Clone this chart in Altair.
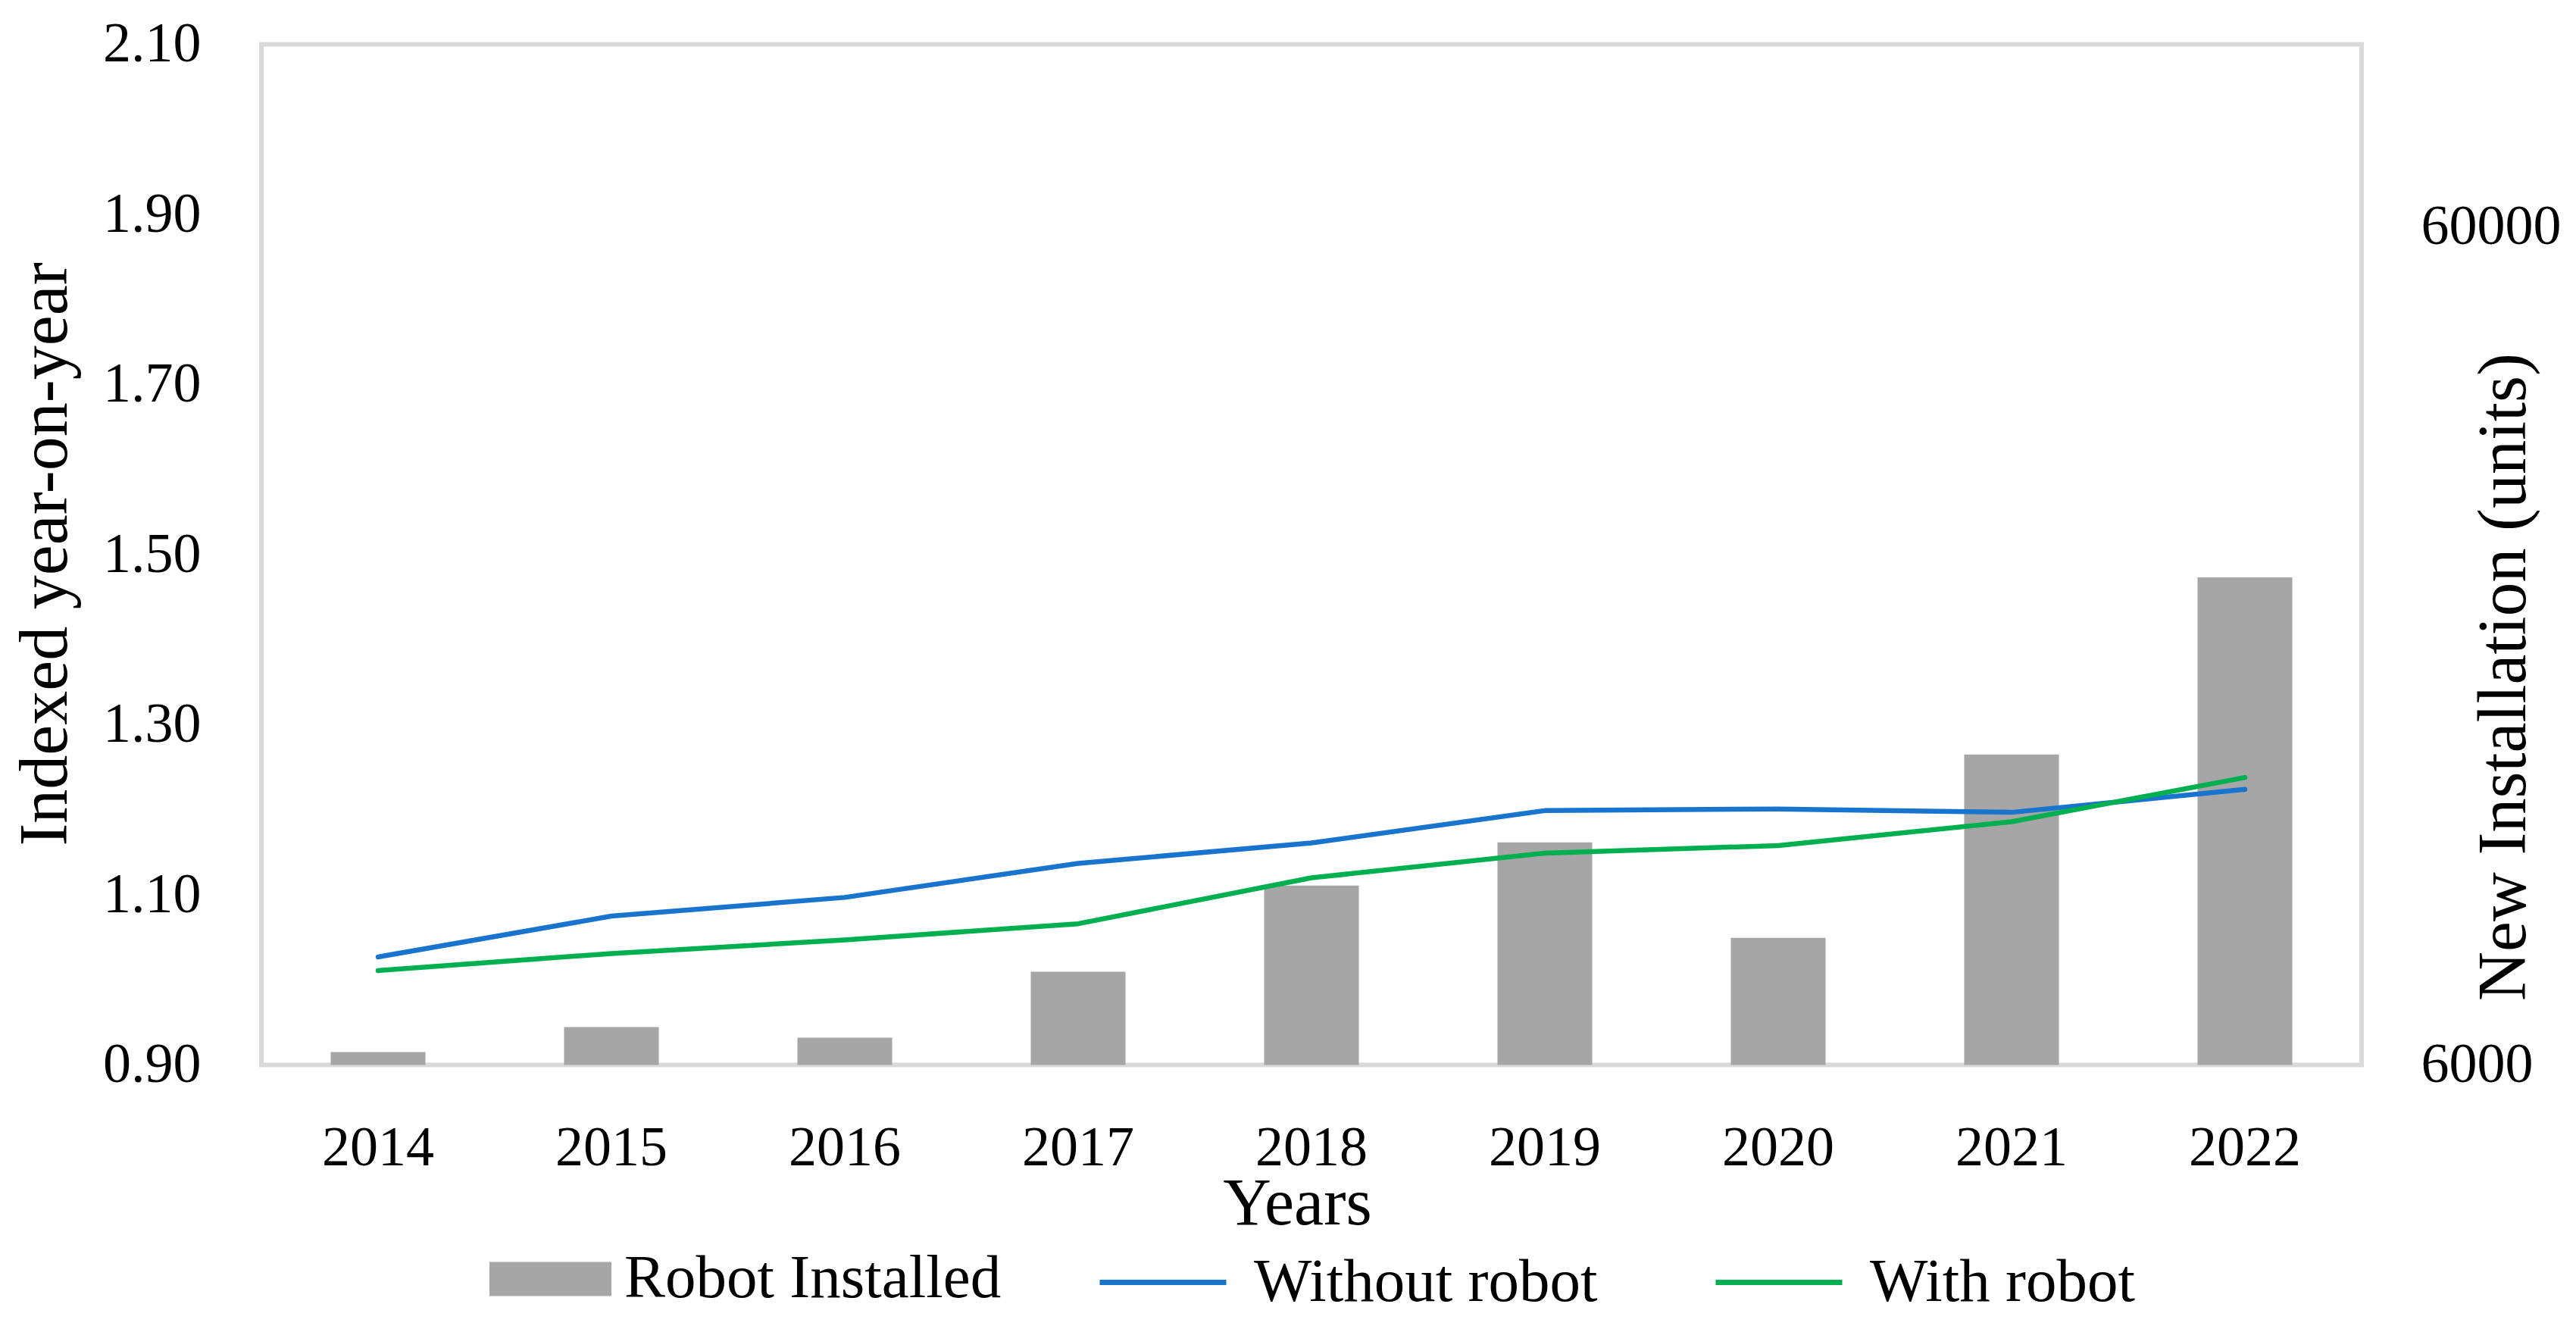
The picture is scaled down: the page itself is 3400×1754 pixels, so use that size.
import altair as alt
import pandas as pd

years = ["2014", "2015", "2016", "2017", "2018", "2019", "2020", "2021", "2022"]
robots_installed = [6216, 6658, 6466, 7749, 9822, 11059, 8506, 14076, 22900]
without_robot = [1.027, 1.075, 1.097, 1.137, 1.161, 1.199, 1.201, 1.197, 1.224]
with_robot = [1.011, 1.031, 1.047, 1.066, 1.120, 1.149, 1.158, 1.186, 1.238]
left_ticks = [0.9, 1.1, 1.3, 1.5, 1.7, 1.9, 2.1]
right_ticks = [6000, 60000]

df = pd.DataFrame({
    "Year": years,
    "Robot Installed": robots_installed,
    "Without robot": without_robot,
    "With robot": with_robot,
})

FONT = "Liberation Serif"
W, H = 2772, 1347

x_enc = alt.X(
    "Year:N", sort=years,
    scale=alt.Scale(paddingInner=0.594, paddingOuter=0.297),
    axis=alt.Axis(
        title="Years", labelAngle=0, ticks=False, domain=False, grid=False,
        labelBaseline="alphabetic", labelPadding=132,
        titleX=1367, titleY=210, titleAlign="center", titleBaseline="alphabetic",
        titleFontSize=88,
    ),
)

bars = alt.Chart(df).transform_calculate(series="'Robot Installed'").mark_bar().encode(
    x=x_enc,
    y=alt.Y(
        "Robot Installed:Q",
        scale=alt.Scale(type="log", domain=[6000, 99000]),
        axis=alt.Axis(
            orient="right", values=right_ticks, format="d", grid=False, ticks=False,
            domain=False, labelPadding=78, labelLimit=1000,
            title="New Installation (units)",
            titleAngle=270, titleX=215, titleY=834.5, titleAlign="center",
            titleBaseline="alphabetic",
        ),
    ),
    y2=alt.datum(6000),
    fill=alt.Fill(
        "series:N",
        scale=alt.Scale(domain=["Robot Installed"], range=["#A6A6A6"]),
        legend=alt.Legend(
            orient="none", legendX=301, legendY=1549, title=None,
            symbolType="M-1,-0.28L1,-0.28L1,0.28L-1,0.28Z", symbolSize=161 * 161,
            symbolStrokeWidth=0, symbolOpacity=1, labelOffset=17, labelLimit=2000,
        ),
    ),
)

left_axis = alt.Axis(
    orient="left", values=left_ticks, format=".2f", ticks=False, domain=False,
    labelPadding=80, gridColor="#F2F2F2", gridWidth=5,
    gridOpacity={"condition": {"test": "datum.value < 0.95 || datum.value > 2.05", "value": 0}, "value": 1},
    title="Indexed year-on-year", titleAngle=270, titleX=-258, titleY=672.5,
    titleAlign="center", titleBaseline="alphabetic",
)


def line_layer(col, color, lx):
    return alt.Chart(df).transform_calculate(series=f"'{col}'").mark_line(
        strokeWidth=6.5, strokeCap="round", strokeJoin="round"
    ).encode(
        x=x_enc,
        y=alt.Y(f"{col}:Q", scale=alt.Scale(domain=[0.9, 2.1], zero=False, nice=False), axis=left_axis),
        stroke=alt.Stroke(
            "series:N",
            scale=alt.Scale(domain=[col], range=[color]),
            legend=alt.Legend(
                orient="none", legendX=lx, legendY=1547, title=None,
                symbolType="stroke", symbolSize=167 * 167, symbolStrokeWidth=7,
                labelOffset=33, labelLimit=2000,
            ),
        ),
    )


blue = line_layer("Without robot", "#1874CD", 1103)
green = line_layer("With robot", "#00B050", 1916)

lines = alt.layer(blue, green).resolve_scale(stroke="independent").resolve_legend(stroke="independent")

chart = alt.layer(bars, lines).resolve_scale(
    y="independent", stroke="independent", fill="independent"
).resolve_axis(y="independent").properties(
    width=W, height=H,
    autosize=alt.AutoSizeParams(type="none"),
    padding={"left": 337, "top": 50.5, "right": 275, "bottom": 340},
).configure(
    background="white",
).configure_view(
    stroke="#D9D9D9", strokeWidth=6,
).configure_axis(
    labelFont=FONT, labelFontSize=74, labelColor="#000000",
    titleFont=FONT, titleFontSize=90, titleColor="#000000", titleFontWeight="normal",
).configure_legend(
    labelFont=FONT, labelFontSize=81, labelColor="#000000", padding=0,
)

chart.save("out.html", embed_options={"renderer": "svg", "actions": False})
